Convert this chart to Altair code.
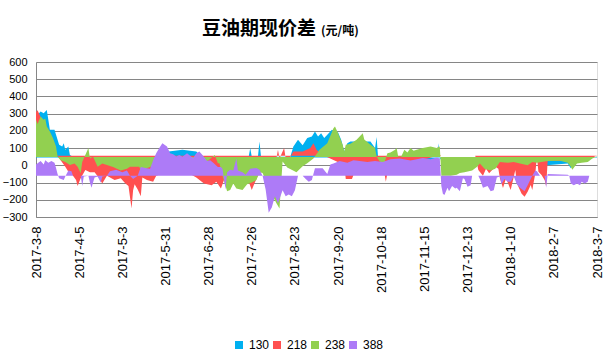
import altair as alt
import pandas as pd

SERIES = ["130", "218", "238", "388"]
COLORS = ["#00B0F0", "#FF5050", "#92D050", "#AD7BF7"]
BASE = {"130": 45, "218": 55, "238": 48, "388": -60}

TICK_LABELS = ["2017-3-8", "2017-4-5", "2017-5-3", "2017-5-31", "2017-6-28", "2017-7-26",
               "2017-8-23", "2017-9-20", "2017-10-18", "2017-11-15", "2017-12-13",
               "2018-1-10", "2018-2-7", "2018-3-7"]

# day offsets from 2017-3-8
days_130 = [0,1,3,5,7,8,9,12,14,15,17,18,19,21,22,24,30,84,86,90,95,100,104,108,138,139,140,144,145,146,
            165,167,170,173,176,179,181,183,185,187,189,192,196,198,200,202,204,212,217,220,221,222,240,260,
            261,262,263,330,331,345,347,349,364]
vals_130 = [312,293,312,303,322,264,206,206,148,120,109,128,90,109,60,50,45,45,80,85,90,85,80,45,50,100,50,50,138,50,
            50,109,148,117,158,167,196,167,187,158,177,206,190,148,80,128,138,138,138,100,165,40,30,30,
            128,30,45,45,0,10,-17,20,50]

days_218 = [0,1,3,5,8,12,14,16,19,21,24,26,27,29,32,35,38,41,43,46,51,55,58,60,62,63,64,66,68,69,
            72,76,78,85,100,104,109,114,117,120,122,126,135,137,140,142,144,150,156,157,158,161,162,165,167,
            173,178,180,182,186,200,201,205,208,212,215,219,221,225,227,229,234,237,240,245,250,258,261,262,263,
            285,287,290,292,294,298,300,301,303,305,308,311,312,315,317,319,321,322,324,325,326,328,330,331,332,
            345,348,351,355,358,364]
vals_218 = [310,320,280,250,200,100,55,30,-8,-37,-60,-85,-120,-75,-27,-40,-40,-75,-105,-60,-85,-75,-105,-120,-250,-145,-110,-140,-180,-70,
            -85,-95,-60,-40,-50,-70,-105,-115,-95,-135,-85,-20,-70,-70,-143,-100,-60,10,40,90,40,100,40,50,80,
            80,100,128,90,60,2,-80,-80,-10,-15,-40,-5,-40,10,-95,2,20,12,2,20,30,50,110,60,55,
            55,-27,-60,-20,-46,-8,-20,-75,-131,-75,-143,-27,-104,-163,-182,-153,-114,-143,-46,51,-37,-56,-85,-120,25,
            25,0,20,35,35,55]

days_238 = [0,1,3,5,6,7,9,11,13,14,16,19,22,25,27,29,30,34,35,37,40,43,46,50,55,59,61,67,69,71,
            74,78,90,100,110,116,118,119,121,124,126,128,130,134,137,140,143,145,147,152,156,158,160,163,169,
            173,176,180,184,189,193,194,196,199,200,201,204,208,212,213,217,220,221,223,226,228,230,233,234,235,
            237,239,241,243,245,247,251,256,260,262,263,269,273,275,278,283,286,288,291,295,298,301,306,310,314,
            319,322,325,332,340,345,347,348,351,354,358,361,364]
vals_238 = [264,240,283,265,272,225,196,158,109,50,30,20,2,10,-8,-46,20,100,40,50,-8,10,2,-10,-30,-20,-8,-8,-56,-20,
            -10,0,10,20,15,60,12,12,-60,-150,-143,-105,-135,-143,-110,-100,-85,-40,-45,-150,-220,-250,22,-12,-40,
            -5,12,40,90,128,216,225,187,119,80,119,125,148,187,150,119,100,51,22,12,70,75,90,100,51,
            51,90,75,100,85,90,100,110,100,109,-60,-60,-55,-45,-40,-30,-10,10,-20,-30,-20,20,15,20,10,
            0,20,15,25,27,15,-8,-25,10,15,20,40,52]

days_388 = [0,3,5,6,8,10,12,13,14,15,18,19,21,23,24,27,29,30,31,34,35,36,38,40,42,43,46,48,52,56,59,61,63,66,68,71,74,
            76,78,80,82,85,87,89,91,93,95,98,100,102,104,106,108,111,113,115,118,120,121,123,124,126,128,130,131,134,136,
            139,143,145,147,149,151,152,153,155,157,160,162,164,166,168,170,173,175,177,179,180,181,186,189,191,193,197,
            202,206,210,215,220,225,230,236,243,247,251,256,260,262,263,264,265,267,268,270,272,273,275,277,278,280,282,
            283,287,288,290,293,295,297,299,301,302,304,306,308,310,312,314,317,319,322,324,325,327,330,331,332,345,346,
            347,349,351,353,354,356,358,359,364]
vals_388 = [5,25,5,30,15,25,15,-15,-50,-75,-85,-65,-30,-35,-60,-60,-60,-120,-65,-60,-100,-130,-70,-65,-100,-65,-60,-35,-25,-40,-30,-60,-80,-60,-10,-15,-20,
            30,70,100,128,110,70,65,52,60,50,70,55,43,70,80,60,25,30,15,-10,-10,-20,-140,-40,-25,-30,40,-30,-40,-55,
            -20,-15,-25,-60,-140,-275,-260,-245,-180,-220,-145,-180,-170,-180,-145,-60,-60,-80,-95,-85,-50,-17,-17,-50,5,10,25,
            15,30,25,20,25,20,35,40,28,35,42,35,45,40,-120,-165,-172,-130,-150,-120,-135,-130,-150,-75,-80,-125,-115,
            -60,-60,-80,-130,-120,-150,-145,-70,-65,-110,-80,-95,-95,-65,-110,-130,-150,-115,-60,-30,-35,-60,-60,-130,-50,-55,-60,
            -105,-115,-105,-115,-95,-105,-95,-60,-60]

rows = []
for name, ds, vs in [("130", days_130, vals_130), ("218", days_218, vals_218),
                     ("238", days_238, vals_238), ("388", days_388, vals_388)]:
    for d, v in zip(ds, vs):
        rows.append({"day": d, "value": v, "base": BASE[name], "series": name})
df = pd.DataFrame(rows)

label_expr = "[" + ",".join("'" + t + "'" for t in TICK_LABELS) + "][round(datum.value/28)]"

color = alt.Color(
    "series:N",
    scale=alt.Scale(domain=SERIES, range=COLORS),
    legend=alt.Legend(orient="none", legendX=197, legendY=277, direction="horizontal", columns=4,
                      symbolType="square", symbolSize=64, symbolStrokeWidth=0, labelFontSize=12,
                      labelFont="Liberation Sans", labelColor="#000000", labelOffset=4,
                      columnPadding=1, title=None, padding=0),
)

x = alt.X("day:Q", scale=alt.Scale(domain=[0, 364], nice=False, zero=False),
          axis=alt.Axis(values=list(range(0, 365, 28)), labelExpr=label_expr, labelAngle=-90,
                        labelFontSize=13, labelFont="Liberation Sans", labelColor="#000000",
                        labelPadding=9, grid=False, ticks=False, domainColor="#868686",
                        title=None, labelOverlap=False, labelBound=False, labelFlush=False))
y = alt.Y("value:Q", scale=alt.Scale(domain=[-300, 600], nice=False, zero=False),
          axis=alt.Axis(values=list(range(-300, 601, 100)), grid=True, gridColor="#868686",
                        gridWidth=1, ticks=False, domainColor="#868686", labelFontSize=11,
                        labelFont="Liberation Sans", labelColor="#000000", labelPadding=9, title=None))

base = alt.Chart(df)
layers = []
for name in SERIES:
    layers.append(
        base.transform_filter(alt.datum.series == name)
        .mark_area(opacity=1, interpolate="linear")
        .encode(x=x, y=y, y2="base:Q", color=color)
    )

one = pd.DataFrame({"k": [0]})
title1 = alt.Chart(one).mark_text(align="left", baseline="alphabetic", fontSize=19, fontWeight="bold",
                                  font="Noto Sans CJK SC", color="#000000").encode(
    x=alt.value(166), y=alt.value(-27), text=alt.value("豆油期现价差"))
title2 = alt.Chart(one).mark_text(align="left", baseline="alphabetic", fontSize=12, fontWeight="bold",
                                  font="Noto Sans CJK SC", color="#000000").encode(
    x=alt.value(285), y=alt.value(-27), text=alt.value("(元/吨)"))

chart = alt.layer(*layers, title1, title2).properties(
    width=561, height=155,
    autosize=alt.AutoSizeParams(type="none"),
    padding={"left": 36, "top": 62, "right": 16, "bottom": 140},
).configure_view(stroke=None).configure(background="white")

chart.save("out.html", embed_options={"renderer": "svg", "actions": False})
